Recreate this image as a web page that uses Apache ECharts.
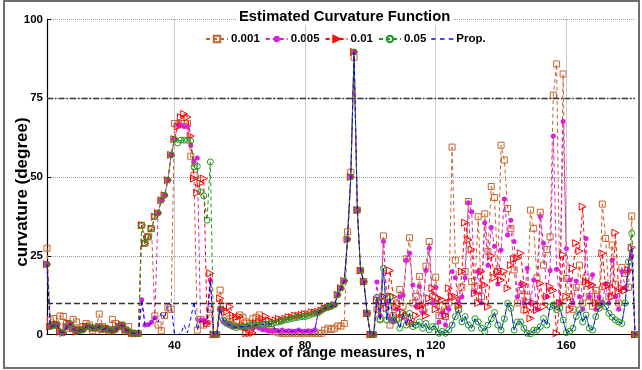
<!DOCTYPE html>
<html><head><meta charset="utf-8">
<script src="https://cdn.jsdelivr.net/npm/echarts@6/dist/echarts.min.js"></script>
<style>html,body{margin:0;padding:0;background:#fff}#c{width:642px;height:370px}</style>
</head><body><div id="c"></div>
<script>
// index of range measures n starts at 1
const nStart = 1;
const xTicks = [40, 80, 120, 160];
const yTicks = [0, 25, 50, 75, 100];
const thresholdLow = 10;
const thresholdHigh = 75;
const seriesNames = ['0.001', '0.005', '0.01', '0.05', 'Prop.'];

const s001 = [
27.4,4.6,5.1,3.0,5.9,5.7,3.5,2.0,4.8,4.0,
1.5,2.5,3.5,3.0,1.2,2.0,6.5,2.5,2.0,1.5,
4.8,3.5,2.5,3.0,1.5,2.5,0.5,0.3,0.3,34.7,
29.0,31.0,33.6,5.9,3.0,1.2,6.0,8.5,8.0,67.0,
66.5,67.0,67.0,67.0,56.6,50.6,1.4,4.8,3.0,3.5,
8.0,0,0,14.1,9.0,4.0,5.0,3.0,4.5,6.2,
5.5,4.0,3.5,5.0,5.5,6.2,3.0,2.0,1.5,0.9,
0.9,0.5,0.4,0.4,0.4,0.5,0.4,0.4,0.5,0.4,
0.4,0.5,0.4,0.4,0.4,1.4,2.0,1.6,2.0,2.7,
2.7,3.5,32.6,51.5,88.0,39.5,20.3,16.8,6.7,0,
0,8.0,5.0,31.3,12.0,3.0,6.0,10.0,14.3,9.0,
24.0,30.7,10.0,12.0,18.4,8.0,21.7,29.5,12.0,18.2,
6.0,9.0,5.7,10.0,59.5,23.6,8.0,15.0,20.0,42.2,
16.8,15.4,37.4,12.0,38.3,26.3,47.0,43.5,20.0,60.1,
55.4,40.0,33.7,20.5,10.0,14.0,7.8,12.0,39.5,33.7,
18.0,38.8,22.0,27.0,31.0,76.0,85.9,10.0,82.7,17.8,
12.0,8.0,15.0,22.0,10.0,18.0,12.0,9.0,14.0,10.0,
41.4,30.5,12.0,28.4,16.0,10.0,21.3,19.4,15.0,37.6,
0];

const s005 = [
22.3,2.5,2.8,3.2,0.9,0.5,2.5,3.5,2.0,0.9,
1.4,1.4,2.5,2.5,2.0,2.0,2.5,1.5,2.0,1.5,
1.0,1.5,2.5,3.0,1.5,1.0,0.4,0.3,0.3,11.0,
3.0,3.2,4.0,5.3,38.6,42.6,44.2,49.0,57.0,62.0,
66.5,66.5,66.0,66.0,60.0,55.0,56.0,4.6,4.6,4.0,
17.3,0,0,8.1,4.0,3.5,3.0,2.5,2.5,2.5,
2.0,2.0,2.5,2.0,2.5,2.0,1.5,1.5,1.2,1.0,
1.2,1.0,1.4,1.0,1.2,1.0,1.0,1.4,1.0,1.0,
1.2,1.0,1.5,6.9,7.6,8.3,8.6,8.9,9.4,12.6,
14.7,17.0,30.2,50.0,89.7,39.5,20.3,16.8,6.7,0,
0,16.7,6.0,29.5,10.0,5.0,4.0,8.0,12.0,12.5,
23.6,25.8,15.7,9.0,15.2,7.0,20.3,27.4,10.0,15.0,
4.0,7.0,3.0,8.0,20.0,18.0,10.0,12.0,18.0,41.8,
39.0,13.6,20.0,10.0,35.5,22.0,34.0,28.0,16.0,26.8,
43.0,31.6,36.3,29.5,12.0,16.0,10.0,21.0,10.0,17.3,
8.0,37.5,29.0,12.0,20.3,63.0,20.7,10.0,67.6,27.3,
17.3,10.0,17.0,12.0,8.0,30.5,12.0,19.0,8.0,12.0,
10.0,16.0,10.0,23.6,12.0,8.0,20.0,15.0,20.0,25.0,
0];

const s01 = [
22.3,2.5,2.8,3.2,0.9,0.5,2.5,3.5,2.0,0.9,
1.4,1.4,2.5,2.5,2.0,2.0,2.5,1.5,2.0,1.5,
1.0,1.5,2.5,3.0,1.5,1.0,0.4,0.3,0.3,34.7,
28.9,31.0,33.6,37.4,38.6,42.6,44.2,49.0,57.0,62.0,
66.0,69.0,70.0,69.0,63.0,49.5,45.0,48.0,49.5,3.5,
19.4,0,0,11.5,8.0,7.2,8.8,6.0,5.5,5.7,
3.0,0.4,0.4,0.5,3.5,4.0,5.0,5.7,4.5,4.0,
4.5,5.0,4.5,5.0,5.5,5.5,6.0,6.0,6.2,6.5,
6.5,7.0,7.0,7.2,7.6,8.3,8.6,8.9,9.4,12.6,
14.7,17.0,30.2,50.0,89.7,39.5,20.3,16.8,6.7,0,
0,11.0,9.0,12.0,8.3,20.3,12.0,8.8,5.0,7.0,
6.0,4.0,3.5,6.0,9.0,9.3,6.0,11.5,14.7,8.0,
11.5,11.0,6.0,14.7,12.0,12.0,9.0,20.0,35.5,30.0,
27.0,13.1,10.0,20.0,15.7,8.8,25.0,18.0,20.0,17.3,
20.0,14.7,22.0,24.0,24.2,25.8,16.0,7.8,5.1,10.0,
7.8,16.2,8.8,12.0,15.2,14.0,0.4,10.0,25.3,12.0,
7.8,21.0,29.0,26.5,40.6,16.8,16.2,15.7,10.0,8.8,
25.8,15.2,15.7,12.0,32.3,13.6,14.7,14.0,20.5,27.6,
0];

const s05 = [
22.3,2.5,2.8,3.2,0.9,0.5,2.5,3.5,2.0,0.9,
1.4,1.4,2.5,2.5,2.0,2.0,2.5,1.5,2.0,1.5,
1.0,1.5,2.5,3.0,1.5,1.0,0.4,0.3,0.3,34.7,
28.9,31.0,33.6,37.4,38.6,42.6,44.2,49.0,57.0,62.0,
60.8,61.7,61.7,61.7,61.5,53.2,53.4,45.3,44.0,36.3,
54.8,0,0,8.1,4.6,3.5,3.0,2.5,2.2,2.5,
2.5,2.5,2.8,3.0,3.0,3.1,3.2,3.3,3.4,3.5,
3.8,4.0,4.3,4.6,4.8,5.1,5.3,5.5,5.7,5.7,
6.0,6.4,6.7,6.9,7.6,8.3,8.6,8.9,9.4,12.6,
14.7,17.0,30.2,50.0,89.7,39.5,20.3,16.8,6.7,0,
0,11.8,4.6,21.0,4.6,11.8,4.6,4.6,2.0,6.7,
3.0,6.7,2.5,3.0,4.0,2.0,3.5,1.5,2.5,2.5,
0.4,1.0,0.4,1.5,3.0,5.7,7.8,4.0,5.7,3.0,
2.0,5.0,4.0,2.0,1.0,3.0,5.0,7.0,3.0,1.4,
5.0,9.9,8.3,1.4,4.0,4.0,2.0,0.4,0.2,1.4,
1.4,2.5,5.1,3.0,8.8,9.4,7.8,8.3,4.6,0.6,
1.0,2.0,5.7,7.8,4.0,6.2,2.0,1.4,5.7,8.3,
9.9,8.8,6.7,5.5,4.6,4.0,3.5,10.0,23.0,32.1,
0];

const sProp = [
22.3,2.5,2.8,3.2,0.9,0.5,2.5,3.5,2.0,0.9,
1.4,1.4,2.5,2.5,2.0,2.0,2.5,1.5,2.0,1.5,
1.0,1.5,2.5,3.0,1.5,1.0,0.4,0.3,0.3,11.0,
3.0,3.0,3.5,5.3,4.0,7.0,5.0,10.0,9.5,0,
0,0.3,3.0,0.5,5.0,10.4,1.4,4.5,3.0,5.0,
17.3,0,0,8.1,4.6,3.5,3.0,2.5,2.2,2.5,
2.5,2.5,2.8,3.0,3.0,3.1,3.2,3.3,3.4,3.5,
1.2,1.0,1.4,1.0,1.2,1.0,1.0,1.4,1.0,1.0,
1.2,1.0,1.5,6.9,7.6,8.3,8.6,8.9,9.4,12.6,
14.7,17.0,30.2,50.0,89.7,39.5,20.3,16.8,6.7,0,
0,11.8,4.6,21.0,4.6,11.8,4.6,4.6,2.0,6.7,
3.0,6.7,2.5,3.0,4.0,2.0,3.5,1.5,2.5,2.5,
0.4,1.0,0.4,1.5,3.0,5.7,7.8,4.0,5.7,3.0,
2.0,5.0,4.0,2.0,1.0,3.0,5.0,7.0,3.0,1.4,
5.0,9.9,8.3,1.4,4.0,4.0,2.0,0.4,0.2,1.4,
1.4,2.5,5.1,3.0,8.8,9.4,7.8,8.3,4.6,0.6,
1.0,2.0,5.7,7.8,4.0,6.2,2.0,1.4,5.7,8.3,
9.9,8.8,6.7,5.5,4.6,4.0,3.5,10.0,23.0,28.0,
0];

const FONT = "'Liberation Sans', Arial, Helvetica, sans-serif";
const toPairs = arr => arr.map((v, i) => [nStart + i, v]);
const dash = [4, 3];
const triRight = 'path://M0,0 L10,5 L0,10 Z';
const dashIcon = 'path://M0,0h4.5v1.6h-4.5z M8.7,0h4.5v1.6h-4.5z M17.5,0h4.5v1.6h-4.5z';

function lineSeries(name, arr, color, symbol, size, filled, z) {
  return {
    name, type: 'line', data: toPairs(arr), z,
    symbol, symbolSize: size, showAllSymbol: true,
    lineStyle: { color, width: 1, type: dash },
    itemStyle: filled ? { color, borderWidth: 0 } : { color: 'rgba(255,255,255,0)', borderColor: color, borderWidth: 1 },
    emphasis: { disabled: true }, animation: false
  };
}

const chart = echarts.init(document.getElementById('c'), null, { renderer: 'canvas' });
chart.setOption({
  backgroundColor: '#fff',
  animation: false,
  textStyle: { fontFamily: FONT },
  title: {
    text: 'Estimated Curvature Function', left: 236, top: 8,
    padding: [1, 3], backgroundColor: '#fff',
    textStyle: { fontFamily: FONT, fontWeight: 'bold', fontSize: 14.8, color: '#000' }
  },
  legend: {
    data: seriesNames.slice(0, 4).concat([{ name: 'Prop.', icon: dashIcon, itemStyle: { color: '#0000ff', borderWidth: 0 } }]),
    left: 205, top: 33, itemGap: 5, itemWidth: 22, itemHeight: 8, padding: 0,
    textStyle: { fontFamily: FONT, fontWeight: 'bold', fontSize: 11.5, color: '#000', padding: [0, 0, 0, -2] }
  },
  grid: { left: 47, right: 7, top: 19.5, bottom: 35.5, containLabel: false },
  xAxis: {
    type: 'value', min: 1, max: 181,
    axisLine: { show: true, lineStyle: { color: '#000', width: 1.2 } },
    axisTick: { show: true, inside: true, length: 4, customValues: xTicks, lineStyle: { color: '#000' } },
    axisLabel: { customValues: xTicks, color: '#000', fontWeight: 'bold', fontSize: 11.5, fontFamily: FONT, margin: 5 },
    splitLine: { show: false }
  },
  yAxis: {
    type: 'value', min: 0, max: 100, interval: 25,
    axisLine: { show: true, lineStyle: { color: '#000', width: 1.2 } },
    axisTick: { show: true, inside: true, length: 4, lineStyle: { color: '#000' } },
    axisLabel: { color: '#000', fontWeight: 'bold', fontSize: 11.5, fontFamily: FONT, margin: 4 },
    splitLine: { show: true, lineStyle: { color: '#9a9a9a', type: 'dotted', width: 1 } }
  },
  graphic: [
    { type: 'rect', shape: { x: 4, y: 1, width: 635, height: 367 }, style: { fill: 'none', stroke: '#6e6e6e', lineWidth: 2 }, z: -10, silent: true },
    { type: 'text', x: 331, y: 353, style: { text: 'index of range measures, n', font: 'bold 14.5px ' + FONT, fill: '#000', textAlign: 'center', textVerticalAlign: 'middle' }, silent: true },
    { type: 'text', x: 22, y: 192, rotation: Math.PI / 2, style: { text: 'curvature (degree)', font: 'bold 17px ' + FONT, fill: '#000', textAlign: 'center', textVerticalAlign: 'middle' }, silent: true }
  ],
  series: [
    {
      type: 'line', data: [], z: 1, silent: true,
      markLine: {
        silent: true, symbol: ['none', 'none'], label: { show: false }, animation: false,
        data: xTicks.map(v => ({ xAxis: v, lineStyle: { color: '#9a9a9a', type: 'dotted', width: 1 } })).concat([
          { yAxis: thresholdLow, lineStyle: { color: '#333', type: [6, 3], width: 1.3 } },
          { yAxis: thresholdHigh, lineStyle: { color: '#333', type: [6, 2, 1.5, 2], width: 1.3 } }
        ])
      }
    },
    lineSeries('0.001', s001, '#c8642a', 'rect', 6, false, 2),
    lineSeries('0.005', s005, '#dd1fdd', 'circle', 5, true, 3),
    lineSeries('0.01', s01, '#ff0000', triRight, 7, false, 4),
    lineSeries('0.05', s05, '#1a9a1a', 'circle', 6, false, 5),
    lineSeries('Prop.', sProp, '#0000ff', 'none', 0, true, 6)
  ]
});
</script></body></html>
